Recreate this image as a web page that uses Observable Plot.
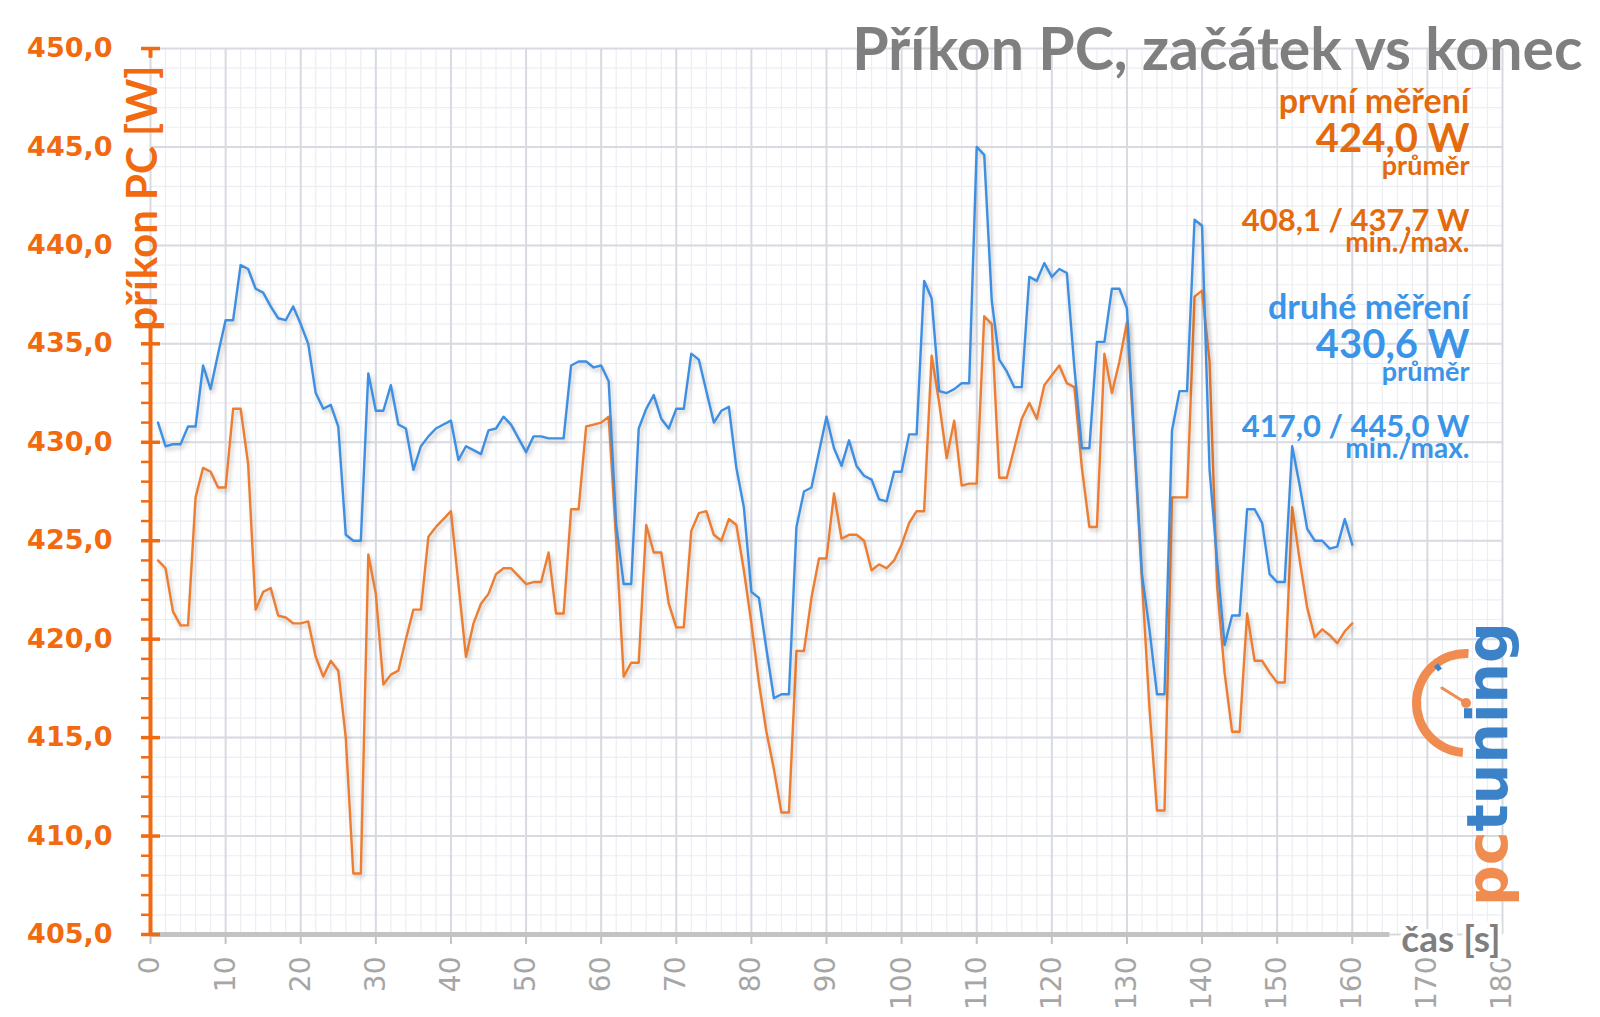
<!DOCTYPE html>
<html>
<head>
<meta charset="utf-8">
<script src="https://cdn.jsdelivr.net/npm/d3@7"></script>
<script src="https://cdn.jsdelivr.net/npm/@observablehq/plot@0.6"></script>
<style>
  html, body { margin: 0; padding: 0; background: #ffffff; }
  #chart { width: 1600px; height: 1017px; }
</style>
</head>
<body>
<div id="chart"></div>
<script>
// ---------- data ----------
// first measurement (orange), seconds 1..160
const firstMeasurement = [
  424.0, 423.6, 421.4, 420.7, 420.7, 427.2, 428.7, 428.5, 427.7, 427.7,
  431.7, 431.7, 428.9, 421.5, 422.4, 422.6, 421.2, 421.1, 420.8, 420.8,
  420.9, 419.1, 418.1, 418.9, 418.4, 415.0, 408.1, 408.1, 424.3, 422.3,
  417.7, 418.2, 418.4, 420.0, 421.5, 421.5, 425.2, 425.7, 426.1, 426.5,
  422.8, 419.1, 420.8, 421.8, 422.3, 423.3, 423.6, 423.6, 423.2, 422.8,
  422.9, 422.9, 424.4, 421.3, 421.3, 426.6, 426.6, 430.8, 430.9, 431.0,
  431.3, 425.0, 418.1, 418.8, 418.8, 425.8, 424.4, 424.4, 421.8, 420.6,
  420.6, 425.5, 426.4, 426.5, 425.3, 425.0, 426.1, 425.8, 423.5, 420.8,
  417.8, 415.3, 413.4, 411.2, 411.2, 419.4, 419.4, 422.1, 424.1, 424.1,
  427.4, 425.1, 425.3, 425.3, 425.0, 423.5, 423.8, 423.6, 424.0, 424.8,
  425.9, 426.5, 426.5, 434.4, 432.0, 429.2, 431.1, 427.8, 427.9, 427.9,
  436.4, 436.0, 428.2, 428.2, 429.7, 431.2, 432.0, 431.2, 432.9, 433.4,
  433.9, 433.0, 432.8, 428.7, 425.7, 425.7, 434.5, 432.5, 434.1, 436.1,
  429.8, 423.0, 416.5, 411.3, 411.3, 427.2, 427.2, 427.2, 437.4, 437.7,
  434.1, 422.7, 418.3, 415.3, 415.3, 421.3, 418.9, 418.9, 418.3, 417.8,
  417.8, 426.7, 424.0, 421.6, 420.1, 420.5, 420.2, 419.8, 420.4, 420.8
];
// second measurement (blue), seconds 1..160
const secondMeasurement = [
  431.0, 429.8, 429.9, 429.9, 430.8, 430.8, 433.9, 432.7, 434.5, 436.2,
  436.2, 439.0, 438.8, 437.8, 437.6, 436.9, 436.3, 436.2, 436.9, 436.0,
  435.0, 432.5, 431.7, 431.9, 430.8, 425.3, 425.0, 425.0, 433.5, 431.6,
  431.6, 432.9, 430.9, 430.7, 428.6, 429.8, 430.3, 430.7, 430.9, 431.1,
  429.1, 429.8, 429.6, 429.4, 430.6, 430.7, 431.3, 430.9, 430.2, 429.5,
  430.3, 430.3, 430.2, 430.2, 430.2, 433.9, 434.1, 434.1, 433.8, 433.9,
  433.1, 425.8, 422.8, 422.8, 430.7, 431.7, 432.4, 431.2, 430.7, 431.7,
  431.7, 434.5, 434.2, 432.6, 431.0, 431.6, 431.8, 428.7, 426.7, 422.4,
  422.1, 419.5, 417.0, 417.2, 417.2, 425.7, 427.5, 427.7, 429.5, 431.3,
  429.7, 428.8, 430.1, 428.8, 428.3, 428.1, 427.1, 427.0, 428.5, 428.5,
  430.4, 430.4, 438.2, 437.3, 432.6, 432.5, 432.7, 433.0, 433.0, 445.0,
  444.6, 437.2, 434.2, 433.6, 432.8, 432.8, 438.4, 438.2, 439.1, 438.4,
  438.8, 438.6, 433.8, 429.7, 429.7, 435.1, 435.1, 437.8, 437.8, 436.8,
  430.0, 423.3, 420.5, 417.2, 417.2, 430.6, 432.6, 432.6, 441.3, 441.0,
  428.6, 424.0, 419.7, 421.2, 421.2, 426.6, 426.6, 425.9, 423.3, 422.9,
  422.9, 429.8, 427.8, 425.6, 425.0, 425.0, 424.6, 424.7, 426.1, 424.8
];
const xTicks = [0, 10, 20, 30, 40, 50, 60, 70, 80, 90, 100, 110, 120, 130, 140, 150, 160, 170, 180];
const yTicks = [405, 410, 415, 420, 425, 430, 435, 440, 445, 450];
const chartTitle = "Příkon PC, začátek vs konec";
const yTitle = "příkon PC [W]";
const xTitle = "čas [s]";
const firstLegend = ["první měření", "424,0 W", "průměr", "408,1 / 437,7 W", "min./max."];
const secondLegend = ["druhé měření", "430,6 W", "průměr", "417,0 / 445,0 W", "min./max."];
const logoParts = ["pc", "tuning"];

// ---------- styling ----------
const C = {
  orangeLine: "#ED7D31",
  blueLine: "#3D8FE3",
  axisOrange: "#F26A10",
  textOrange: "#E46A0C",
  textBlue: "#3A95E8",
  gray: "#7F7F7F",
  tickGray: "#A6A6A6",
  axisGray: "#C3C3C3",
  gridMajor: "#D7DAE1",
  gridMinor: "#ECEEF3"
};

const xMin = xTicks[0], xMax = xTicks[xTicks.length - 1];
const yMin = yTicks[0], yMax = yTicks[yTicks.length - 1];
const xMinor = d3.range(xMin, xMax + 1, 2);
const yMinor = d3.range(yMin, yMax + 0.5, 1);
const yAxisVisible = v => v <= 435 || v >= yMax; // the axis title hides the upper part
const fmt = d => d.toFixed(1).replace(".", ",");

const firstData = firstMeasurement.map((v, i) => ({t: i + 1, v}));
const secondData = secondMeasurement.map((v, i) => ({t: i + 1, v}));

// legend layout: [fontSize, baseline offset from top of frame]
const legendLayout = [[34, 64], [40, 103], [27, 126], [31, 182], [28, 203]];
const legendGap = 206;

function legendMarks(lines, color, extra) {
  return lines.map((txt, i) => Plot.text([txt], {
    frameAnchor: "top-right", textAnchor: "end", lineAnchor: "bottom",
    dx: -33, dy: legendLayout[i][1] + extra,
    fontSize: legendLayout[i][0], fontWeight: "bold", fontFamily: "Lato",
    fill: color
  }));
}

const chart = Plot.plot({
  width: 1600,
  height: 1017,
  marginLeft: 150,
  marginRight: 98,
  marginTop: 48,
  marginBottom: 83,
  style: {background: "#ffffff", overflow: "visible"},
  x: {domain: [xMin, xMax]},
  y: {domain: [yMin, yMax]},
  marks: [
    // grid
    Plot.ruleX(xMinor, {stroke: C.gridMinor, strokeWidth: 1.2}),
    Plot.ruleY(yMinor, {stroke: C.gridMinor, strokeWidth: 1.2}),
    Plot.ruleX(xTicks, {stroke: C.gridMajor, strokeWidth: 2}),
    Plot.ruleY(yTicks, {stroke: C.gridMajor, strokeWidth: 2}),
    // data
    Plot.line(firstData, {x: "t", y: "v", stroke: C.orangeLine, strokeWidth: 2.4}),
    Plot.line(secondData, {x: "t", y: "v", stroke: C.blueLine, strokeWidth: 2.4}),
    // x axis
    Plot.ruleY([yMin], {x1: xMin, x2: 165, stroke: C.axisGray, strokeWidth: 5}),
    Plot.axisX(xTicks.filter(d => d <= 160), {tickSize: 10, fill: "none", stroke: C.axisGray, strokeWidth: 2, label: null}),
    Plot.axisX(xTicks, {tickSize: 0, tickPadding: 22, tickRotate: -90, textAnchor: "end",
      fill: C.tickGray, fontSize: 28, fontFamily: "DejaVu Sans", label: null}),
    // y axis
    Plot.ruleX([xMin], {y1: yMin, y2: 435.8, stroke: C.axisOrange, strokeWidth: 4}),
    Plot.ruleX([xMin], {y1: 449.5, y2: yMax, stroke: C.axisOrange, strokeWidth: 4}),
    Plot.axisY(yMinor.filter(yAxisVisible), {tickSize: 9, fill: "none", stroke: C.axisOrange, strokeWidth: 2.5, label: null}),
    Plot.axisY(yTicks.filter(yAxisVisible), {tickSize: 19, dx: 10, fill: "none", stroke: C.axisOrange, strokeWidth: 3.5, label: null}),
    Plot.axisY(yTicks, {tickSize: 0, tickPadding: 38, tickFormat: fmt, fill: C.axisOrange,
      fontSize: 27, fontWeight: "bold", fontFamily: "DejaVu Sans", label: null}),
    // axis titles
    Plot.text([yTitle], {frameAnchor: "top-left", rotate: -90, textAnchor: "end", lineAnchor: "middle",
      dx: -7, dy: 17, fontSize: 42, fontWeight: "bold", fontFamily: "Lato", fill: C.axisOrange}),
    Plot.text([xTitle], {frameAnchor: "bottom-right", textAnchor: "end", lineAnchor: "bottom",
      dx: -2, dy: 17, fontSize: 37, fontWeight: "bold", fontFamily: "Lato", fill: C.gray,
      stroke: "#ffffff", strokeWidth: 8}),
    // title
    Plot.text([chartTitle], {frameAnchor: "top-right", textAnchor: "end", lineAnchor: "bottom",
      dx: 80, dy: 21, fontSize: 59, fontWeight: "bold", fontFamily: "Lato", fill: C.gray}),
    // legend
    ...legendMarks(firstLegend, C.textOrange, 0),
    ...legendMarks(secondLegend, C.textBlue, legendGap)
  ]
});

document.getElementById("chart").appendChild(chart);

// soft shadow on the data lines, as in the original
d3.select(chart).selectAll('g[aria-label="line"] path')
  .style("filter", "drop-shadow(2px 3px 2px rgba(0,0,0,0.22))");

// pctuning logo (decoration), placed under the axis title texts
const logo = d3.select(chart).insert("g", 'g[aria-label="text"]').attr("aria-label", "logo");
const gx = 1466, gy = 703, gr = 50;
logo.append("path")
  .attr("transform", `translate(${gx},${gy})`)
  .attr("d", d3.arc()({innerRadius: gr - 5, outerRadius: gr + 4, startAngle: -Math.PI * 0.98, endAngle: 0.05}))
  .attr("fill", "#F08C50");
logo.append("line").attr("x1", gx).attr("y1", gy).attr("x2", gx - 24).attr("y2", gy - 15)
  .attr("stroke", "#F08C50").attr("stroke-width", 3).attr("stroke-linecap", "round");
logo.append("circle").attr("cx", gx).attr("cy", gy).attr("r", 5).attr("fill", "#F08C50");
logo.append("line").attr("x1", gx - 30).attr("y1", gy - 38).attr("x2", gx - 26).attr("y2", gy - 33)
  .attr("stroke", "#3C82C8").attr("stroke-width", 5);
const lt = logo.append("text")
  .attr("transform", "translate(1507,906) rotate(-90)")
  .attr("text-anchor", "start")
  .attr("font-family", "DejaVu Sans").attr("font-weight", "bold").attr("font-size", 57);
lt.append("tspan").attr("fill", "#F08C50").text(logoParts[0]);
lt.append("tspan").attr("fill", "#3C82C8").text(logoParts[1]);
</script>
</body>
</html>
